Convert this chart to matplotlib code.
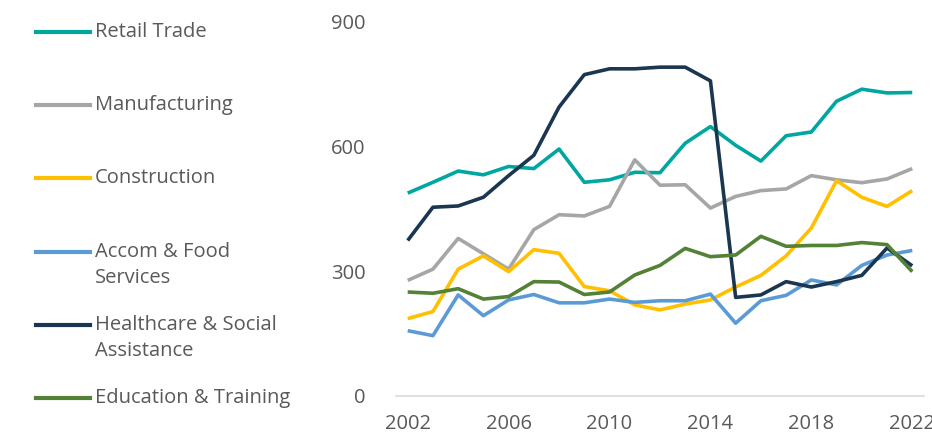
import matplotlib.pyplot as plt
from matplotlib.lines import Line2D

plt.rcParams['font.family'] = ['Open Sans', 'DejaVu Sans']

years = list(range(2002, 2023))

retail = [488, 514, 541, 532, 552, 547, 594, 514, 520, 538, 537,
          608, 648, 603, 565, 626, 635, 709, 738, 729, 730]
manufacturing = [278, 305, 379, 342, 305, 400, 436, 433, 456, 568, 507,
                 508, 452, 480, 494, 498, 530, 520, 513, 522, 547]
construction = [186, 203, 305, 337, 299, 352, 343, 263, 253, 219, 207,
                221, 231, 262, 290, 337, 404, 518, 478, 456, 494]
accom_food = [157, 145, 243, 193, 231, 244, 224, 224, 233, 225, 229,
              229, 245, 175, 229, 242, 279, 267, 314, 339, 350]
healthcare = [374, 454, 457, 478, 530, 579, 695, 773, 787, 787, 791,
              791, 758, 237, 243, 275, 262, 275, 290, 356, 313]
education = [250, 247, 258, 233, 239, 275, 274, 244, 250, 291, 314,
             355, 335, 339, 384, 360, 362, 362, 369, 364, 299]

series = [
    ('Retail Trade', retail, '#00A6A0'),
    ('Manufacturing', manufacturing, '#A6A6A6'),
    ('Construction', construction, '#FFC000'),
    ('Accom & Food\nServices', accom_food, '#5B9BD5'),
    ('Healthcare & Social\nAssistance', healthcare, '#1B3650'),
    ('Education & Training', education, '#538135'),
]

yticks = [0, 300, 600, 900]
xticks = [2002, 2006, 2010, 2014, 2018, 2022]
text_color = '#595959'

fig = plt.figure(figsize=(9.32, 4.37), dpi=100)
ax = fig.add_axes([0.425, 0.094, 0.566, 0.856])

for label, vals, col in series:
    ax.plot(years, vals, color=col, lw=2.6, solid_capstyle='butt')

ax.set_xlim(2001.54, 2022.45)
ax.set_ylim(0, 900)
ax.set_yticks(yticks)
ax.set_xticks(xticks)
ax.tick_params(length=0, labelsize=14.5, colors=text_color)
ax.tick_params(axis='y', pad=22)
ax.tick_params(axis='x', pad=13)
for s in ['top', 'right', 'left']:
    ax.spines[s].set_visible(False)
ax.spines['bottom'].set_color('#D9D9D9')
ax.spines['bottom'].set_linewidth(1.2)

# legend on the left, evenly spaced, text first line level with the swatch
W, H = 932, 437
for i, (label, vals, col) in enumerate(series):
    y = 32 + i * 73.2
    fig.add_artist(Line2D([36 / W, 90 / W], [1 - y / H, 1 - y / H],
                          color=col, lw=3, transform=fig.transFigure))
    for j, line in enumerate(label.split('\n')):
        fig.text(95 / W, 1 - (y + j * 26) / H, line, fontsize=14.5,
                 color=text_color, va='center', ha='left')

fig.savefig('out.png', dpi=100)
